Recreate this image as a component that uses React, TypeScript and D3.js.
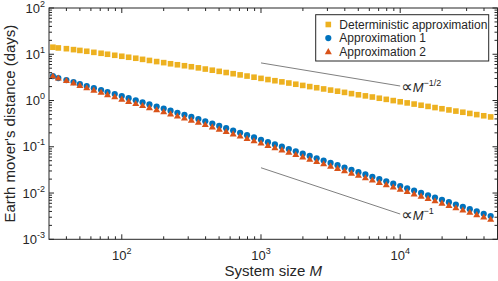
import React from 'react';
import * as d3 from 'd3';

// system sizes (log spaced, 20 per decade)
const sizes = [32, 35, 40, 45, 50, 56, 63, 71, 79, 89, 100, 112, 126, 141, 158, 178, 200, 224, 251, 282,
  316, 355, 398, 447, 501, 562, 631, 708, 794, 891, 1000, 1122, 1259, 1413, 1585, 1778, 1995, 2239, 2512, 2818,
  3162, 3548, 3981, 4467, 5012, 5623, 6310, 7079, 7943, 8913, 10000, 11220, 12589, 14125, 15849, 17783, 19953,
  22387, 25119, 28184, 31623, 35481, 39811, 44668];

const deterministic = [14.2, 13.7, 13.2, 12.6, 12.1, 11.6, 11.0, 10.5, 10.0, 9.5, 9.05, 8.61, 8.2, 7.76, 7.35,
  6.95, 6.59, 6.23, 5.93, 5.65, 5.37, 5.08, 4.79, 4.52, 4.27, 4.03, 3.8, 3.58, 3.38, 3.19, 3.01, 2.84, 2.68,
  2.53, 2.39, 2.25, 2.12, 2.0, 1.89, 1.78, 1.68, 1.59, 1.5, 1.41, 1.33, 1.26, 1.19, 1.12, 1.06, 0.997, 0.94,
  0.888, 0.838, 0.79, 0.746, 0.704, 0.664, 0.626, 0.591, 0.558, 0.526, 0.496, 0.468, 0.442];

const approx1 = [3.37, 3.05, 2.76, 2.5, 2.26, 2.05, 1.85, 1.68, 1.52, 1.375, 1.245, 1.123, 1.012, 0.913, 0.823,
  0.742, 0.669, 0.603, 0.544, 0.49, 0.442, 0.399, 0.355, 0.317, 0.282, 0.252, 0.224, 0.2, 0.178, 0.159, 0.1415,
  0.126, 0.1125, 0.1003, 0.0894, 0.0797, 0.071, 0.0633, 0.0564, 0.0503, 0.0448, 0.04, 0.0356, 0.0317, 0.0283,
  0.0252, 0.0225, 0.02, 0.0179, 0.0159, 0.0142, 0.01265, 0.01128, 0.01005, 0.00896, 0.00799, 0.00712, 0.00634,
  0.00565, 0.00504, 0.00449, 0.004, 0.00357, 0.00318];

const approx2 = [3.37, 3.05, 2.7, 2.4, 2.12, 1.89, 1.67, 1.5, 1.34, 1.2, 1.07, 0.955, 0.86, 0.776, 0.7, 0.631,
  0.569, 0.513, 0.462, 0.417, 0.376, 0.339, 0.302, 0.269, 0.24, 0.214, 0.19, 0.17, 0.151, 0.135, 0.12, 0.107,
  0.0956, 0.0853, 0.076, 0.0677, 0.0604, 0.0538, 0.0479, 0.0428, 0.0381, 0.034, 0.0303, 0.0269, 0.0241, 0.0214,
  0.0191, 0.017, 0.0152, 0.0135, 0.0121, 0.01075, 0.00959, 0.00854, 0.00762, 0.00679, 0.00605, 0.00539, 0.0048,
  0.00428, 0.00382, 0.0034, 0.00303, 0.0027];

// guide lines for the scaling laws
const guideX = [1000, 10000];
const guideHalf = [6.5, 2.06];
const guideOne = [0.0352, 0.00352];

const xTicks = [100, 1000, 10000];
const yTicks = [1e-3, 1e-2, 1e-1, 1, 10, 100];

const legendItems = ['Deterministic approximation', 'Approximation 1', 'Approximation 2'];

const font = '"Liberation Sans", Arial, Helvetica, sans-serif';
const ink = '#262626';
const colors = ['#EDB120', '#0072BD', '#D95319'];

const left = 49, right = 497.5, top = 8, bottom = 239.3;

const x = d3.scaleLog().domain([30, 50000]).range([left, right]);
const y = d3.scaleLog().domain([1e-3, 1e2]).range([bottom, top]);

function minorTicks(domain: number[]) {
  const out: number[] = [];
  const lo = Math.floor(Math.log10(domain[0]));
  const hi = Math.ceil(Math.log10(domain[1]));
  for (let e = lo; e < hi; e++) {
    for (let m = 2; m <= 9; m++) {
      const v = m * Math.pow(10, e);
      if (v > domain[0] && v < domain[1]) out.push(v);
    }
  }
  return out;
}

const Marker = ({ kind, cx, cy, color }: { kind: number; cx: number; cy: number; color: string }) => {
  if (kind === 0) return <rect x={cx - 2.8} y={cy - 2.8} width={5.6} height={5.6} fill={color} />;
  if (kind === 1) return <circle cx={cx} cy={cy} r={3.1} fill={color} />;
  return <path d={`M${cx},${cy - 3.6} L${cx + 3.5},${cy + 2.5} L${cx - 3.5},${cy + 2.5} Z`} fill={color} />;
};

const Pow = ({ e }: { e: number }) => (
  <>
    <tspan>10</tspan>
    <tspan dy={-6} fontSize={9}>{e}</tspan>
  </>
);

export default function App() {
  const series = [deterministic, approx1, approx2];
  const line = d3.line<number>().x((_, i) => x(guideX[i])).y(d => y(d));
  const xMinor = minorTicks(x.domain());
  const yMinor = minorTicks(y.domain());

  return (
    <svg width={498} height={281} style={{ position: 'absolute', left: 0, top: 0 }} fontFamily={font}>
      <rect width={498} height={281} fill="#fff" />

      {/* guide lines */}
      <path d={line(guideHalf) || ''} stroke="#808080" strokeWidth={1} fill="none" />
      <path d={line(guideOne) || ''} stroke="#808080" strokeWidth={1} fill="none" />
      <text x={x(guideX[1]) + 1} y={y(guideHalf[1]) + 5.5} fontSize={13} fill={ink}>
        <tspan fontSize={16} fontFamily='"DejaVu Sans", sans-serif'>∝</tspan>
        <tspan fontStyle="italic">M</tspan><tspan dy={-6} fontSize={9}>−1/2</tspan>
      </text>
      <text x={x(guideX[1]) + 1} y={y(guideOne[1]) + 5.5} fontSize={13} fill={ink}>
        <tspan fontSize={16} fontFamily='"DejaVu Sans", sans-serif'>∝</tspan>
        <tspan fontStyle="italic">M</tspan><tspan dy={-6} fontSize={9}>−1</tspan>
      </text>

      {/* data */}
      {series.map((vals, s) => (
        <g key={s}>
          {vals.map((v, i) => (
            <Marker key={i} kind={s} cx={x(sizes[i])} cy={y(v)} color={colors[s]} />
          ))}
        </g>
      ))}

      {/* axes box + ticks */}
      <g stroke={ink} strokeWidth={1}>
        <rect x={left} y={top} width={right - left} height={bottom - top} fill="none" />
        {xTicks.map(t => (
          <g key={t}>
            <line x1={x(t)} x2={x(t)} y1={bottom} y2={bottom - 5} />
            <line x1={x(t)} x2={x(t)} y1={top} y2={top + 5} />
          </g>
        ))}
        {xMinor.map(t => (
          <g key={t}>
            <line x1={x(t)} x2={x(t)} y1={bottom} y2={bottom - 3} />
            <line x1={x(t)} x2={x(t)} y1={top} y2={top + 3} />
          </g>
        ))}
        {yTicks.map(t => (
          <g key={t}>
            <line x1={left} x2={left + 5} y1={y(t)} y2={y(t)} />
            <line x1={right} x2={right - 5} y1={y(t)} y2={y(t)} />
          </g>
        ))}
        {yMinor.map(t => (
          <g key={t}>
            <line x1={left} x2={left + 3} y1={y(t)} y2={y(t)} />
            <line x1={right} x2={right - 3} y1={y(t)} y2={y(t)} />
          </g>
        ))}
      </g>

      {/* tick labels */}
      {xTicks.map(t => (
        <text key={t} x={x(t)} y={bottom + 20.5} fontSize={13} fill={ink} textAnchor="middle">
          <Pow e={Math.round(Math.log10(t))} />
        </text>
      ))}
      {yTicks.map(t => (
        <text key={t} x={left - 4} y={y(t) + 4.6} fontSize={13} fill={ink} textAnchor="end">
          <Pow e={Math.round(Math.log10(t))} />
        </text>
      ))}

      {/* axis titles */}
      <text x={(left + right) / 2} y={276} fontSize={15} fill={ink} textAnchor="middle">
        System size <tspan fontStyle="italic">M</tspan>
      </text>
      <text transform={`translate(15,${(top + bottom) / 2}) rotate(-90)`} fontSize={15} fill={ink} textAnchor="middle">
        Earth mover's distance (days)
      </text>

      {/* legend */}
      <rect x={315.7} y={14.7} width={173} height={46.3} fill="#fff" stroke={ink} strokeWidth={1} />
      {legendItems.map((name, i) => (
        <g key={name}>
          <Marker kind={i} cx={328.3} cy={24.5 + i * 13.6} color={colors[i]} />
          <text x={339.3} y={24.5 + i * 13.6 + 4.3} fontSize={12} fill={ink}>{name}</text>
        </g>
      ))}
    </svg>
  );
}
